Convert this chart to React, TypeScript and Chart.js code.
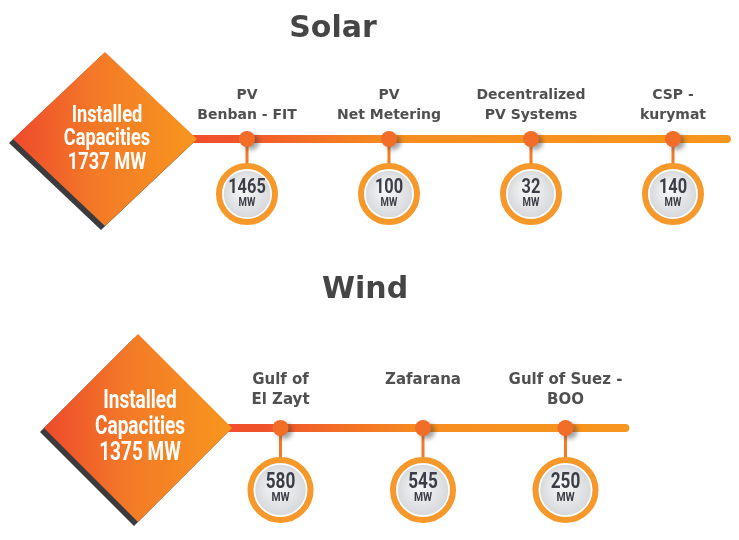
import React, { useEffect, useRef } from "react";
import { Chart, registerables } from "chart.js";
Chart.register(...registerables);

// ---------- data ----------
const unitLabel = "MW";
const totalLabel = ["Installed", "Capacities"];

const solarTitle = "Solar";
const solarTotal = 1737;
const solarCategories = [
  ["PV", "Benban - FIT"],
  ["PV", "Net Metering"],
  ["Decentralized", "PV Systems"],
  ["CSP -", "kurymat"],
];
const solarValues = [1465, 100, 32, 140];

const windTitle = "Wind";
const windTotal = 1375;
const windCategories = [["Gulf of", "El Zayt"], ["Zafarana"], ["Gulf of Suez -", "BOO"]];
const windValues = [580, 545, 250];

// ---------- layout / style ----------
const W = 739;
type Layout = {
  top: number; height: number; originX: number; unitX: number; lineY: number; bubbleY: number;
  titleX: number; titleY: number; hw: number; hh: number; textGap: number; textFont: number;
  labelFont: number; labelTop: number; labelGap: number; bubbleR: number; valueFont: number;
  valueDy: number; mwFont: number; mwDy: number; lineEnd: number; nodeR: number;
};
const solarLayout: Layout = {
  top: 0, height: 255, originX: 105, unitX: 142, lineY: 139, bubbleY: 194,
  titleX: 333, titleY: 29, hw: 92, hh: 87, textGap: 23.5, textFont: 24,
  labelFont: 14, labelTop: -44, labelGap: 20, bubbleR: 28, valueFont: 21,
  valueDy: -6, mwFont: 12, mwDy: 9, lineEnd: 0.38, nodeR: 8,
};
const windLayout: Layout = {
  top: 255, height: 285, originX: 138, unitX: 142.5, lineY: 173, bubbleY: 235,
  titleX: 365, titleY: 35, hw: 94, hh: 94, textGap: 26, textFont: 25,
  labelFont: 15, labelTop: -48, labelGap: 20, bubbleR: 30, valueFont: 22,
  valueDy: -8, mwFont: 13, mwDy: 8, lineEnd: 0.42, nodeR: 8,
};

function diamondPath(ctx: CanvasRenderingContext2D, x: number, y: number, hw: number, hh: number) {
  ctx.beginPath();
  ctx.moveTo(x, y - hh);
  ctx.lineTo(x + hw, y);
  ctx.lineTo(x, y + hh);
  ctx.lineTo(x - hw, y);
  ctx.closePath();
}

function condensed(ctx: CanvasRenderingContext2D, text: string, x: number, y: number, font: string, sx: number, color: string) {
  ctx.save();
  ctx.translate(x, y);
  ctx.scale(sx, 1);
  ctx.font = font;
  ctx.fillStyle = color;
  ctx.textAlign = "center";
  ctx.textBaseline = "middle";
  ctx.fillText(text, 0, 0);
  ctx.restore();
}

function makePlugin(L: Layout, title: string, total: number, categories: string[][], values: number[]) {
  return {
    id: "timelineDecor",
    beforeDatasetDraw(chart: any, args: any) {
      const ds = chart.data.datasets[args.index];
      if (ds.label === "nodes") {
        const ctx = chart.ctx;
        ctx.save();
        ctx.shadowColor = "rgba(60,60,60,0.45)";
        ctx.shadowBlur = 4;
        ctx.shadowOffsetX = 4;
        ctx.shadowOffsetY = 3;
      }
    },
    afterDatasetDraw(chart: any, args: any) {
      const ds = chart.data.datasets[args.index];
      if (ds.label === "nodes") chart.ctx.restore();
    },
    afterDatasetsDraw(chart: any) {
      const ctx: CanvasRenderingContext2D = chart.ctx;
      const xs = chart.scales.x;
      const ys = chart.scales.y;
      const cx = xs.getPixelForValue(0);
      const cy = ys.getPixelForValue(1);

      // title
      ctx.save();
      ctx.font = "bold 30px 'DejaVu Sans', sans-serif";
      ctx.fillStyle = "#454545";
      ctx.textAlign = "center";
      ctx.textBaseline = "middle";
      ctx.fillText(title, L.titleX, L.titleY);
      ctx.restore();

      // diamond
      ctx.save();
      ctx.fillStyle = "#3b3b3d";
      diamondPath(ctx, cx - 4, cy + 4, L.hw, L.hh);
      ctx.fill();
      const g = ctx.createLinearGradient(cx - L.hw, 0, cx + L.hw, 0);
      g.addColorStop(0, "#ee4a2c");
      g.addColorStop(0.45, "#f37a27");
      g.addColorStop(1, "#f7961e");
      ctx.fillStyle = g;
      diamondPath(ctx, cx, cy, L.hw, L.hh);
      ctx.fill();
      ctx.restore();
      const dFont = `bold ${L.textFont}px Roboto, sans-serif`;
      condensed(ctx, totalLabel[0], cx + 2, cy - L.textGap, dFont, 0.76, "#ffffff");
      condensed(ctx, totalLabel[1], cx + 2, cy, dFont, 0.76, "#ffffff");
      condensed(ctx, `${total} ${unitLabel}`, cx + 2, cy + L.textGap, dFont, 0.76, "#ffffff");

      // category labels
      ctx.save();
      ctx.font = `bold ${L.labelFont}px 'DejaVu Sans', sans-serif`;
      ctx.fillStyle = "#505050";
      ctx.textAlign = "center";
      ctx.textBaseline = "middle";
      categories.forEach((lines, i) => {
        const x = xs.getPixelForValue(i + 1);
        lines.forEach((t, k) => ctx.fillText(t, x, cy + L.labelTop + k * L.labelGap));
      });
      ctx.restore();

      // bubble inner + values
      const meta = chart.data.datasets.findIndex((d: any) => d.label === "bubbles");
      const els = chart.getDatasetMeta(meta).data;
      els.forEach((el: any, i: number) => {
        const x = el.x, y = el.y;
        const r = L.bubbleR - 4;
        ctx.save();
        const rg = ctx.createRadialGradient(x - 4, y - 6, 2, x, y, r);
        rg.addColorStop(0, "#f6f7f8");
        rg.addColorStop(1, "#d6d8db");
        ctx.fillStyle = rg;
        ctx.beginPath();
        ctx.arc(x, y, r, 0, Math.PI * 2);
        ctx.fill();
        ctx.strokeStyle = "#ffffff";
        ctx.lineWidth = 1.5;
        ctx.stroke();
        ctx.restore();
        condensed(ctx, String(values[i]), x, y + L.valueDy, `bold ${L.valueFont}px Roboto, sans-serif`, 0.78, "#3b3e46");
        condensed(ctx, unitLabel, x, y + L.mwDy, `bold ${L.mwFont}px Roboto, sans-serif`, 0.8, "#3b3e46");
      });
    },
  };
}

function Timeline({ L, title, total, categories, values }: { L: Layout; title: string; total: number; categories: string[][]; values: number[] }) {
  const ref = useRef<HTMLCanvasElement>(null);
  useEffect(() => {
    if (!ref.current) return;
    const n = values.length;
    const xMin = -L.originX / L.unitX;
    const xMax = (W - L.originX) / L.unitX;
    const uy = L.bubbleY - L.lineY;
    const yMax = 1 + L.lineY / uy;
    const yMin = yMax - L.height / uy;
    const lineEndX = n + L.lineEnd;

    const stems = values.map((_, i) => ({
      type: "line" as const,
      label: "stem",
      data: [{ x: i + 1, y: 1 }, { x: i + 1, y: 0 }],
      borderColor: "#f47a25",
      borderWidth: 3,
      pointRadius: 0,
      order: 3,
    }));

    const chart = new Chart(ref.current, {
      type: "scatter",
      data: {
        datasets: [
          {
            type: "line",
            label: "timeline",
            data: [{ x: 0, y: 1 }, { x: lineEndX, y: 1 }],
            borderWidth: 8,
            borderCapStyle: "round",
            pointRadius: 0,
            order: 4,
            borderColor: (c: any) => {
              const ch = c.chart;
              if (!ch.chartArea) return "#f7941d";
              const x0 = ch.scales.x.getPixelForValue(0);
              const x1 = ch.scales.x.getPixelForValue(lineEndX);
              const x2 = ch.scales.x.getPixelForValue(2);
              const gr = ch.ctx.createLinearGradient(x0, 0, x1, 0);
              const f = (x2 - x0) / (x1 - x0);
              gr.addColorStop(0, "#ee482c");
              gr.addColorStop(f * 0.45, "#ef532b");
              gr.addColorStop(f, "#f68d20");
              gr.addColorStop(1, "#f7961e");
              return gr;
            },
          } as any,
          ...(stems as any[]),
          {
            label: "bubbles",
            data: values.map((_, i) => ({ x: i + 1, y: 0 })),
            pointRadius: L.bubbleR,
            backgroundColor: "#e2e3e5",
            borderColor: "#f7982b",
            borderWidth: 6,
            order: 2,
          },
          {
            label: "nodes",
            data: values.map((_, i) => ({ x: i + 1, y: 1 })),
            pointRadius: L.nodeR,
            backgroundColor: "#f26e28",
            borderWidth: 0,
            order: 1,
          },
        ],
      },
      options: {
        responsive: false,
        maintainAspectRatio: false,
        animation: false,
        events: [],
        layout: { padding: 0, autoPadding: false },
        plugins: { legend: { display: false }, tooltip: { enabled: false }, title: { display: false } },
        scales: {
          x: { type: "linear", display: false, min: xMin, max: xMax },
          y: { type: "linear", display: false, min: yMin, max: yMax },
        },
      },
      plugins: [makePlugin(L, title, total, categories, values)],
    });
    return () => chart.destroy();
  }, []);
  return (
    <canvas
      ref={ref}
      width={W}
      height={L.height}
      style={{ position: "absolute", left: 0, top: L.top, width: W, height: L.height, display: "block" }}
    />
  );
}

export default function App() {
  useEffect(() => {
    document.body.style.margin = "0";
    document.body.style.background = "#ffffff";
  }, []);
  return (
    <div style={{ position: "relative", width: W, height: 540, background: "#ffffff", overflow: "hidden" }}>
      <Timeline L={solarLayout} title={solarTitle} total={solarTotal} categories={solarCategories} values={solarValues} />
      <Timeline L={windLayout} title={windTitle} total={windTotal} categories={windCategories} values={windValues} />
    </div>
  );
}
